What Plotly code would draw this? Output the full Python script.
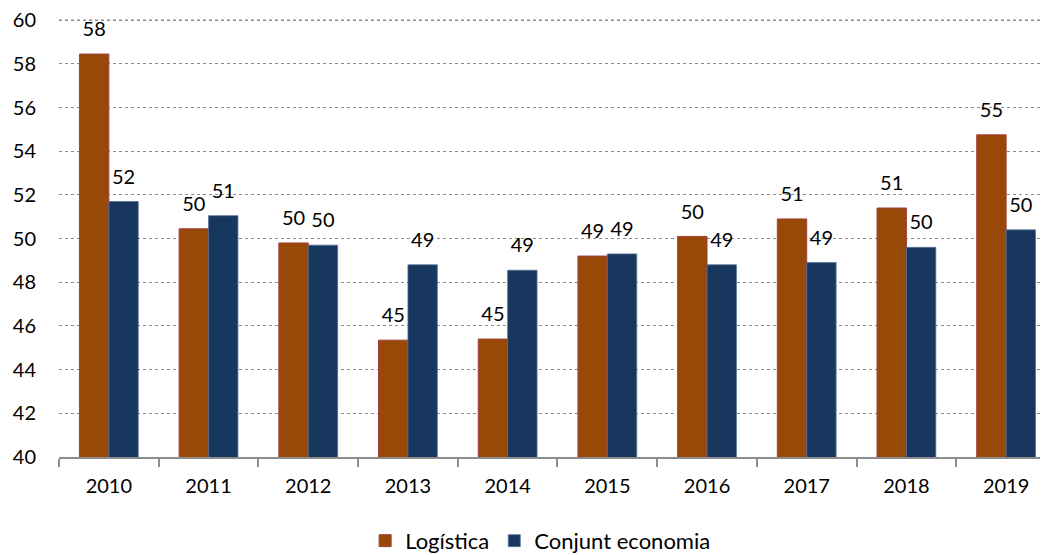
import plotly.graph_objects as go

years = ["2010", "2011", "2012", "2013", "2014", "2015", "2016", "2017", "2018", "2019"]
logistica = [58.45, 50.45, 49.8, 45.35, 45.4, 49.2, 50.1, 50.9, 51.4, 54.75]
conjunt = [51.7, 51.05, 49.7, 48.8, 48.55, 49.3, 48.8, 48.9, 49.6, 50.4]
series_names = ["Logística", "Conjunt economia"]
y_ticks = [40, 42, 44, 46, 48, 50, 52, 54, 56, 58, 60]

FONT = "Lato, 'Open Sans', sans-serif"
COLORS = ["#984807", "#17375E"]
GRID = "#8C8C8C"
BARGAP = 0.41
XRANGE = [-0.5, 9.42]
YRANGE = [40, 60.1]

fig = go.Figure()
fig.add_trace(go.Bar(
    x=years, y=logistica, name=series_names[0],
    marker=dict(color=COLORS[0], line=dict(color="#A0403C", width=1)),
))
fig.add_trace(go.Bar(
    x=years, y=conjunt, name=series_names[1],
    marker=dict(color=COLORS[1], line=dict(color="#5A7296", width=0.8)),
))

# value labels: text traces on an overlaid numeric axis, centred on each bar
half = (1 - BARGAP) / 4
idx = list(range(len(years)))
for vals, sign in ((logistica, -1), (conjunt, 1)):
    fig.add_trace(go.Scatter(
        x=[i + sign * half for i in idx], y=vals, xaxis="x2",
        mode="markers+text", text=[f"{int(v + 0.5)}" for v in vals],
        textposition="top center",
        marker=dict(size=19, opacity=0, color="white"),
        textfont=dict(size=20, family=FONT, color="#000000"),
        showlegend=False, hoverinfo="skip", cliponaxis=False,
    ))

# top gridline (plotly omits the grid line nearest the plot edge)
fig.add_shape(type="line", xref="paper", x0=0, x1=1, yref="y",
              y0=y_ticks[-1], y1=y_ticks[-1], layer="above",
              line=dict(color=GRID, width=1.5, dash="dot"))

fig.update_layout(
    width=1040, height=547,
    margin=dict(l=51, r=0, t=10, b=98, autoexpand=False),
    paper_bgcolor="white", plot_bgcolor="white",
    barmode="group", bargap=BARGAP, bargroupgap=0,
    font=dict(family=FONT, size=20, color="#000000"),
    legend=dict(
        orientation="h", x=0.487, xanchor="center", y=-0.191, yanchor="middle",
        font=dict(size=22, family=FONT), itemwidth=30, traceorder="normal",
    ),
    showlegend=True,
    xaxis2=dict(overlaying="x", range=XRANGE, visible=False, showgrid=False,
                zeroline=False),
)
fig.layout.xaxis.update(
    type="category", range=XRANGE, automargin=False,
    showline=True, linecolor=GRID, linewidth=1.5,
    ticks="outside", tickson="boundaries", ticklen=8, tickcolor=GRID, tickwidth=1.5,
    showgrid=False, tickfont=dict(size=20, family=FONT), ticklabelstandoff=10,
)
fig.update_yaxes(
    range=YRANGE, tickmode="array", tickvals=y_ticks, showgrid=True, automargin=False,
    gridcolor=GRID, griddash="dot", gridwidth=1.2, ticklabeloverflow="allow",
    showline=False, zeroline=False, ticks="", tickfont=dict(size=20, family=FONT),
    ticklabelstandoff=22,
)

fig.write_html("out.html")
